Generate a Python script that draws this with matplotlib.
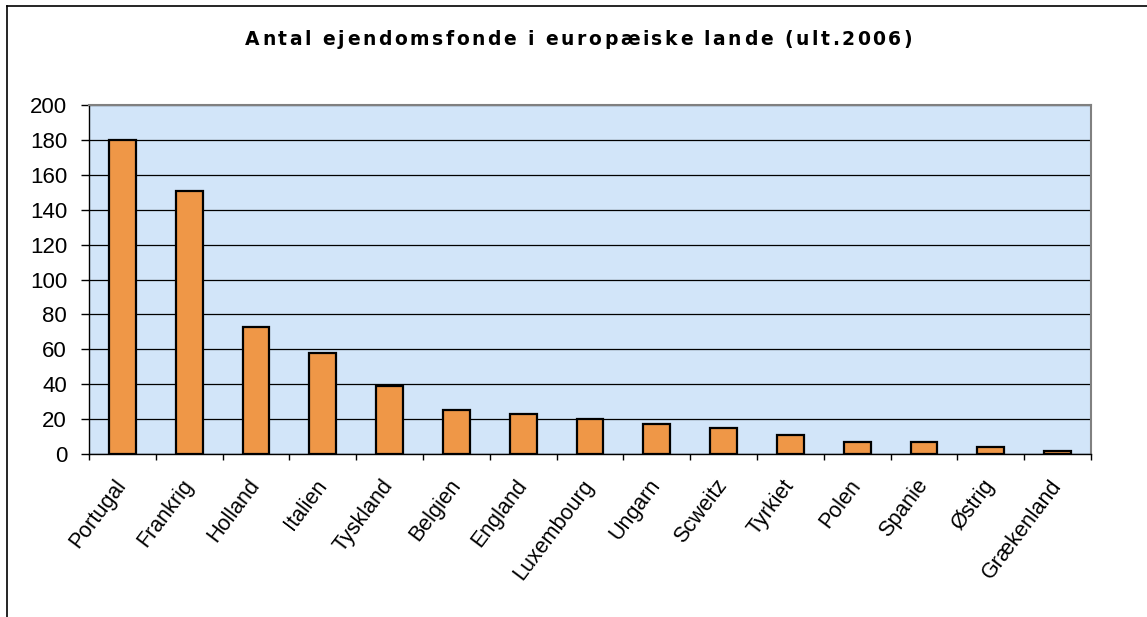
import matplotlib
matplotlib.use("Agg")
import matplotlib.pyplot as plt
from matplotlib.lines import Line2D
from matplotlib.font_manager import FontProperties

countries = ["Portugal", "Frankrig", "Holland", "Italien", "Tyskland", "Belgien",
             "England", "Luxembourg", "Ungarn", "Scweitz", "Tyrkiet", "Polen",
             "Spanie", "Østrig", "Grækenland"]
values = [180, 151, 73, 58, 39, 25, 23, 20, 17, 15, 11, 7, 7, 4, 2]
yticks = [0, 20, 40, 60, 80, 100, 120, 140, 160, 180, 200]
title = "Antal ejendomsfonde i europæiske lande (ult.2006)"

W, H = 1147, 617
fig = plt.figure(figsize=(W / 100, H / 100), dpi=100)
fig.patch.set_facecolor("white")

# outer chart frame (top and left edges visible)
fig.add_artist(Line2D([7 / W, 1.0], [1 - 6 / H, 1 - 6 / H], transform=fig.transFigure,
                      color="black", lw=1.2))
fig.add_artist(Line2D([7 / W, 7 / W], [0, 1 - 6 / H], transform=fig.transFigure,
                      color="black", lw=1.2))

left, right, bottom, top = 89 / W, 1091 / W, 1 - 454 / H, 1 - 105 / H
ax = fig.add_axes([left, bottom, right - left, top - bottom])
ax.set_facecolor("#D2E5F9")

x = list(range(len(countries)))
ax.bar(x, values, width=0.4, color="#EF9747", edgecolor="black", linewidth=1.6, zorder=3)

ax.set_xlim(-0.5, len(countries) - 0.5)
ax.set_ylim(0, 200)
ax.set_yticks(yticks)
ax.set_yticklabels([str(v) for v in yticks], fontsize=16, family="Liberation Sans")
ax.yaxis.grid(True, color="black", linewidth=0.9, zorder=1)
ax.set_axisbelow(True)

ax.set_xticks(x)
ax.set_xticklabels(countries, rotation=53, ha="right", va="center",
                   rotation_mode="anchor", fontsize=15.5, family="Liberation Sans")
ax.tick_params(axis="x", length=0, pad=20)
# category boundary ticks
ax.set_xticks([i - 0.5 for i in range(len(countries) + 1)], minor=True)
ax.tick_params(axis="x", which="minor", length=4.5, width=1, color="black", direction="out")
ax.tick_params(axis="y", length=5.8, width=1, direction="out", pad=10)

for s in ["left", "bottom"]:
    ax.spines[s].set_color("black")
    ax.spines[s].set_linewidth(1.0)
for s in ["top", "right"]:
    ax.spines[s].set_color("#808080")
    ax.spines[s].set_linewidth(1.5)

# letter-spaced bold title, laid out character by character
fp = FontProperties(family="DejaVu Sans", weight="bold", size=13.5)
renderer = fig.canvas.get_renderer()


def adv(s):
    # advance width (px) of string s, measured robustly against trailing spaces
    w1, _, _ = renderer.get_text_width_height_descent("|" + s + "|", fp, ismath=False)
    w0, _, _ = renderer.get_text_width_height_descent("||", fp, ismath=False)
    return w1 - w0


prefix = [adv(title[:i]) for i in range(len(title) + 1)]
x_start, x_end = 245, 912
natural = prefix[-1]
tracking = max(0.0, (x_end - x_start - natural) / (len(title) - 1))
ybase = 1 - 45 / H
for i, ch in enumerate(title):
    if ch == " ":
        continue
    xp = x_start + prefix[i] + tracking * i
    fig.text(xp / W, ybase, ch, ha="left", va="baseline", fontproperties=fp)

fig.savefig("out.png", dpi=100)
